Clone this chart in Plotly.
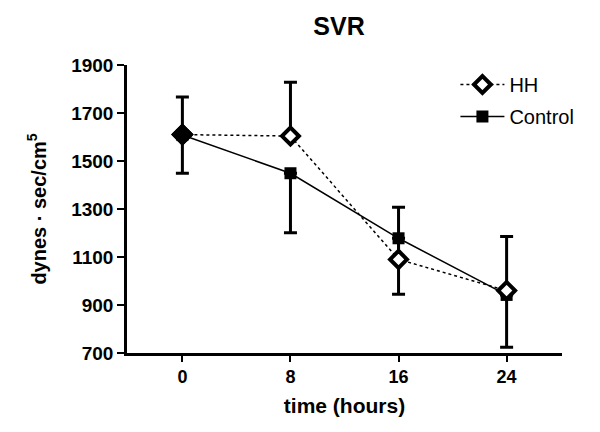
import plotly.graph_objects as go

time_hours = [0, 8, 16, 24]
hh_values = [1610, 1604, 1090, 960]
hh_err_up = [157, 224, 217, 225]
control_values = [1608, 1449, 1178, 942]
control_err_down = [159, 248, 233, 218]
x_ticks = [0, 8, 16, 24]
y_ticks = [700, 900, 1100, 1300, 1500, 1700, 1900]

FONT = "Arial, Liberation Sans, sans-serif"

fig = go.Figure()

fig.add_trace(go.Scatter(
    x=time_hours, y=control_values, name="Control", mode="lines+markers",
    line=dict(color="black", width=1.5),
    marker=dict(symbol="square", size=12, color="black"),
    error_y=dict(type="data", symmetric=False, array=[0, 0, 0, 0],
                 arrayminus=control_err_down, color="black", thickness=3, width=6.5),
    legendrank=2, legendgroup="c",
))
fig.add_trace(go.Scatter(
    x=time_hours, y=hh_values, name="HH", mode="lines+markers",
    line=dict(color="black", width=1.5, dash="dot"),
    marker=dict(symbol="diamond", size=13, color="white",
                line=dict(color="black", width=4)),
    error_y=dict(type="data", symmetric=False, array=hh_err_up,
                 arrayminus=[0, 0, 0, 0], color="black", thickness=3, width=6.5),
    legendrank=1, legendgroup="h",
))
# overlapping first point appears solid
fig.add_trace(go.Scatter(
    x=time_hours[:1], y=hh_values[:1], mode="markers", showlegend=False,
    marker=dict(symbol="diamond", size=13, color="black",
                line=dict(color="black", width=4)),
    hoverinfo="skip",
))

fig.update_layout(
    width=600, height=432,
    margin=dict(l=127, r=38, t=65, b=79),
    paper_bgcolor="white", plot_bgcolor="white",
    font=dict(family=FONT, color="black"),
    title=dict(text="<b>SVR</b>", x=339 / 600, xanchor="center",
               y=1 - 26 / 432, yanchor="middle", font=dict(size=25)),
    showlegend=True,
    legend=dict(x=0.755, y=1.0, xanchor="left", yanchor="top",
                font=dict(size=20), bgcolor="rgba(0,0,0,0)", itemwidth=44,
                tracegroupgap=3),
    xaxis=dict(range=[-4.1, 28.1], tickvals=x_ticks, ticks="outside", ticklen=6,
               tickwidth=2, tickcolor="black", showline=True, linecolor="black",
               linewidth=2.5, showgrid=False, zeroline=False,
               tickfont=dict(size=18, weight="bold"),
               title=dict(text="<b>time (hours)</b>", font=dict(size=21), standoff=12)),
    yaxis=dict(range=[700, 1900], tickvals=y_ticks, ticks="outside", ticklen=7,
               tickwidth=2, tickcolor="black", showline=True, linecolor="black",
               linewidth=2.5, showgrid=False, zeroline=False,
               tickfont=dict(size=19, weight="bold"),
               title=dict(text="<b>dynes · sec/cm<sup>5</sup></b>", font=dict(size=20),
                          standoff=20)),
)

fig.write_html("out.html", config={"displayModeBar": False},
               post_script="document.body.style.margin='0';")
